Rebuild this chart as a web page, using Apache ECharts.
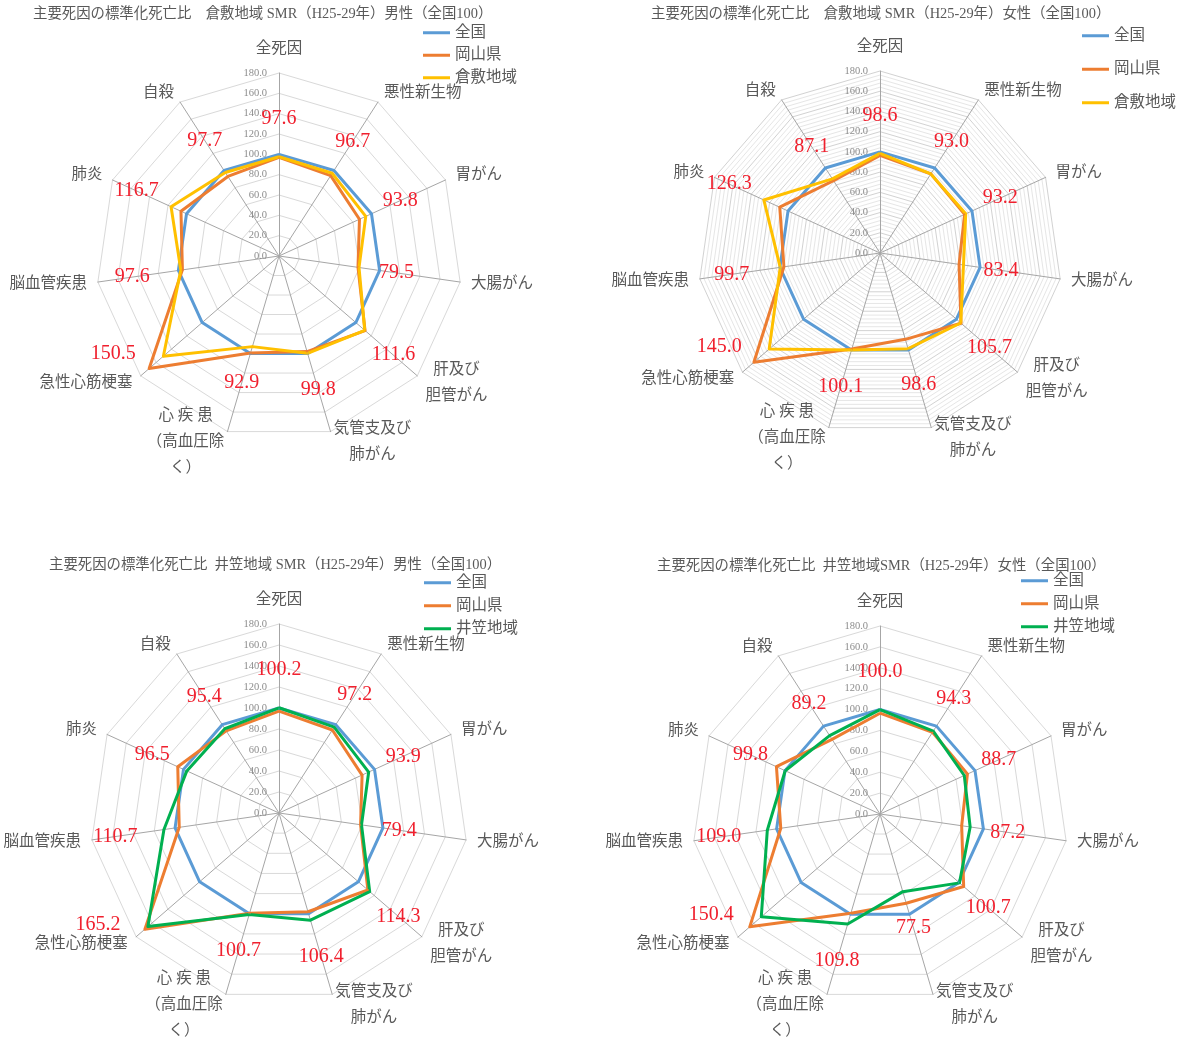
<!DOCTYPE html>
<html lang="ja">
<head>
<meta charset="utf-8">
<title>主要死因の標準化死亡比 SMR（H25-29年）</title>
<script src="https://cdn.jsdelivr.net/npm/echarts@6/dist/echarts.min.js"></script>
<style>
  html, body { margin: 0; padding: 0; background: #ffffff; }
  #chart { width: 1178px; height: 1037px; }
</style>
</head>
<body>
<div id="chart"></div>
<script>
// 主要死因（全死因から時計回り）
const CAUSES = ['全死因', '悪性新生物', '胃がん', '大腸がん', '肝及び胆管がん', '気管支及び肺がん',
  '心疾患（高血圧除く）', '急性心筋梗塞', '脳血管疾患', '肺炎', '自殺'];
// 軸名として表示する文字列（改行位置込み）
const CAUSE_LABELS = ['全死因', '悪性新生物', '胃がん', '大腸がん', '肝及び\n胆管がん', '気管支及び\n肺がん',
  '心 疾 患\n（高血圧除\nく）', '急性心筋梗塞', '脳血管疾患', '肺炎', '自殺'];

// 目盛（0.0〜180.0）
const AXIS_TICKS = [0, 20, 40, 60, 80, 100, 120, 140, 160, 180];

// SMR（全国 = 100）
const NATIONAL         = [100, 100, 100, 100, 100, 100, 100, 100, 100, 100, 100];
const OKAYAMA_MALE     = [97.0, 94.0, 87.0, 78.5, 112.0, 98.0, 99.5, 169.0, 96.0, 106.0, 93.0];
const OKAYAMA_FEMALE   = [96.5, 93.0, 92.0, 79.0, 106.0, 89.0, 99.0, 165.0, 96.0, 109.0, 85.0];
const KURASHIKI_MALE   = [97.6, 96.7, 93.8, 79.5, 111.6, 99.8, 92.9, 150.5, 97.6, 116.7, 97.7];
const KURASHIKI_FEMALE = [98.6, 93.0, 93.2, 83.4, 105.7, 98.6, 100.1, 145.0, 99.7, 126.3, 87.1];
const IKASA_MALE       = [100.2, 97.2, 93.9, 79.4, 114.3, 106.4, 100.7, 165.2, 110.7, 96.5, 95.4];
const IKASA_FEMALE     = [100.0, 94.3, 88.7, 87.2, 100.7, 77.5, 109.8, 150.4, 109.0, 99.8, 89.2];

const NAME_NATIONAL = '全国';
const NAME_PREF = '岡山県';

const PANELS = [
  { title: '主要死因の標準化死亡比　倉敷地域 SMR（H25-29年）男性（全国100）', region: '倉敷地域', pref: OKAYAMA_MALE, area: KURASHIKI_MALE },
  { title: '主要死因の標準化死亡比　倉敷地域 SMR（H25-29年）女性（全国100）', region: '倉敷地域', pref: OKAYAMA_FEMALE, area: KURASHIKI_FEMALE },
  { title: '主要死因の標準化死亡比  井笠地域 SMR（H25-29年）男性（全国100）', region: '井笠地域', pref: OKAYAMA_MALE, area: IKASA_MALE },
  { title: '主要死因の標準化死亡比  井笠地域SMR（H25-29年）女性（全国100）', region: '井笠地域', pref: OKAYAMA_FEMALE, area: IKASA_FEMALE }
];

// 配置とスタイル
const LAYOUT = [
  { center: [279, 256], radius: 183, title: [33, 7],    legend: [423, 25],  legendGap: 7,   minor: false, areaColor: '#ffc000' },
  { center: [880, 253], radius: 182, title: [651, 7],   legend: [1082, 28], legendGap: 18,  minor: true,  areaColor: '#ffc000' },
  { center: [279, 813], radius: 189, title: [49, 558],  legend: [424, 575], legendGap: 7.5, minor: false, areaColor: '#00b050' },
  { center: [880, 814], radius: 188, title: [657, 559], legend: [1021, 573], legendGap: 7.5, minor: false, areaColor: '#00b050' }
];

const BLUE = '#5b9bd5';
const ORANGE = '#ed7d31';
const RED = '#f0202e';
const TEXT = '#595959';
const SANS = '"Liberation Serif", "Noto Sans CJK JP", serif';
const SERIF = '"Liberation Serif", "DejaVu Serif", serif';
const AXIS_MAX = AXIS_TICKS[AXIS_TICKS.length - 1];
const AXIS_STEP = AXIS_TICKS[1] - AXIS_TICKS[0];

// 値ラベルの置き方：基本は中心から外向きに gap だけ離す。急性心筋梗塞は左へ寄せる
const LABEL_RULES = CAUSES.map(c =>
  c === '急性心筋梗塞' ? { dx: -50, dy: -2 } : { gap: c === '脳血管疾患' ? 49 : 38 });

// ECharts のレーダーは反時計回りに並ぶので、時計回りになるよう並べ替える
const ORDER = CAUSES.map((_, i) => (CAUSES.length - i) % CAUSES.length);
const reorder = arr => ORDER.map(i => arr[i]);

function isMajor(v) {
  const q = v / AXIS_STEP;
  return Math.abs(q - Math.round(q)) < 1e-6;
}

function placeLabel(p, c) {
  const x = p.rect.x + p.rect.width / 2;
  const y = p.rect.y + p.rect.height / 2;
  const dx = x - c[0], dy = y - c[1];
  const len = Math.hypot(dx, dy) || 1;
  let a = Math.atan2(dx, -dy);
  if (a < 0) a += Math.PI * 2;
  const idx = Math.round(a / (Math.PI * 2 / CAUSES.length)) % CAUSES.length;
  const rule = LABEL_RULES[idx];
  if (rule.gap == null) return { dx: rule.dx, dy: rule.dy };
  return { dx: dx / len * rule.gap, dy: dy / len * rule.gap };
}

const chart = echarts.init(document.getElementById('chart'), null, { renderer: 'canvas' });

const option = {
  backgroundColor: '#ffffff',
  animation: false,
  title: PANELS.map((P, k) => ({
    text: P.title,
    left: LAYOUT[k].title[0],
    top: LAYOUT[k].title[1],
    padding: 0,
    textStyle: { fontSize: 14.4, fontWeight: 'normal', color: TEXT, fontFamily: SANS }
  })),
  legend: PANELS.map((P, k) => ({
    orient: 'vertical',
    left: LAYOUT[k].legend[0],
    top: LAYOUT[k].legend[1],
    padding: 0,
    itemGap: LAYOUT[k].legendGap,
    itemWidth: 27,
    itemHeight: 3,
    icon: 'rect',
    selectedMode: false,
    data: [NAME_NATIONAL, NAME_PREF, P.region],
    textStyle: { fontSize: 15.5, color: TEXT, fontFamily: SANS }
  })),
  radar: LAYOUT.map(L => ({
    center: L.center,
    radius: L.radius,
    shape: 'polygon',
    startAngle: 90,
    splitNumber: L.minor ? AXIS_MAX / 4 : AXIS_TICKS.length - 1,
    nameGap: 11,
    indicator: ORDER.map((i, j) => ({
      name: CAUSE_LABELS[i],
      min: 0,
      max: AXIS_MAX,
      axisLabel: { show: j === 0 }
    })),
    axisName: {
      color: TEXT,
      fontSize: 15.5,
      fontFamily: SANS,
      lineHeight: 26,
      formatter: n => (n.indexOf('\n') >= 0 ? '{c|' + n + '}' : n),
      rich: { c: { align: 'center', color: TEXT, fontSize: 15.5, fontFamily: SANS, lineHeight: 26 } }
    },
    axisLine: { lineStyle: { color: '#a6a6a6', width: 1 } },
    axisTick: { show: false },
    splitLine: {
      lineStyle: {
        color: L.minor ? ['#d2d2d2', '#e6e6e6', '#e6e6e6', '#e6e6e6', '#e6e6e6'] : '#d9d9d9',
        width: 1
      }
    },
    splitArea: { show: false },
    axisLabel: {
      show: false,
      color: '#8c8c8c',
      fontSize: 10.5,
      fontFamily: SERIF,
      margin: 12,
      formatter: v => (isMajor(v) ? Number(v).toFixed(1) : '')
    }
  })),
  series: PANELS.map((P, k) => ({
    type: 'radar',
    radarIndex: k,
    symbol: 'circle',
    symbolSize: 2,
    silent: true,
    labelLayout: p => placeLabel(p, LAYOUT[k].center),
    data: [
      { name: NAME_NATIONAL, value: reorder(NATIONAL),
        lineStyle: { color: BLUE, width: 3 }, itemStyle: { color: BLUE } },
      { name: NAME_PREF, value: reorder(P.pref),
        lineStyle: { color: ORANGE, width: 3 }, itemStyle: { color: ORANGE } },
      { name: P.region, value: reorder(P.area),
        lineStyle: { color: LAYOUT[k].areaColor, width: 3 }, itemStyle: { color: LAYOUT[k].areaColor },
        label: {
          show: true,
          position: 'inside',
          color: RED,
          fontSize: 20,
          fontFamily: SERIF,
          formatter: p => {
            const v = Array.isArray(p.value) ? p.value[p.dimensionIndex] : p.value;
            return Number(v).toFixed(1);
          }
        } }
    ]
  }))
};

chart.setOption(option);
</script>
</body>
</html>
